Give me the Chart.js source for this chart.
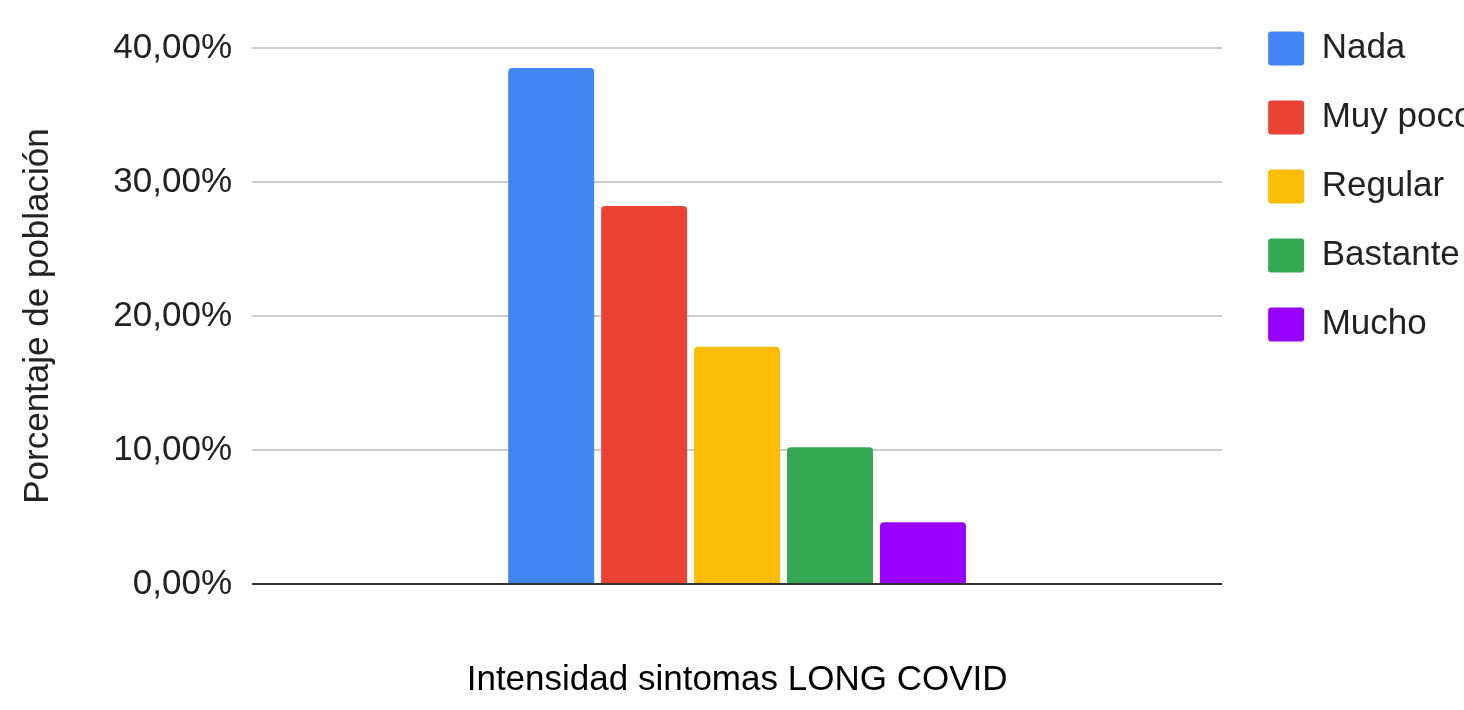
<!DOCTYPE html>
<html>
<head>
<meta charset="utf-8">
<script src="https://cdn.jsdelivr.net/npm/chart.js@4"></script>
<style>
  html, body { margin: 0; padding: 0; background: #fff; overflow: hidden; }
  #wrap { position: relative; width: 1481px; height: 710px; }
</style>
</head>
<body>
<div id="wrap"><canvas id="chart"></canvas></div>
<script>
// Data
const categories = [''];
const seriesNames = ['Nada', 'Muy poco', 'Regular', 'Bastante', 'Mucho'];
const seriesValues = [38.5, 28.2, 17.7, 10.2, 4.6];
const seriesColors = ['#4285f4', '#ea4335', '#fbbc04', '#34a853', '#9900ff'];
const yTicks = [0, 10, 20, 30, 40];

const FONT = '"Liberation Sans", Arial, sans-serif';

const datasets = seriesNames.map((name, i) => ({
    label: name,
    data: [seriesValues[i]],
    backgroundColor: seriesColors[i],
    borderRadius: { topLeft: 4, topRight: 4 },
    borderSkipped: 'start',
    categoryPercentage: 0.479,
    barPercentage: 0.925
}));

new Chart(document.getElementById('chart'), {
    type: 'bar',
    data: { labels: categories, datasets: datasets },
    options: {
        responsive: true,
        maintainAspectRatio: false,
        animation: false,
        layout: { padding: { left: 0, right: 0, top: -3, bottom: 0 } },
        plugins: {
            tooltip: { enabled: false },
            legend: {
                position: 'right',
                align: 'start',
                labels: {
                    boxWidth: 36,
                    boxHeight: 34,
                    padding: 34,
                    useBorderRadius: true,
                    borderRadius: 3,
                    color: '#222',
                    font: { family: FONT, size: 35 }
                }
            }
        },
        scales: {
            x: {
                grid: { display: false, drawTicks: false },
                border: { display: false },
                ticks: { display: false },
                title: {
                    display: true,
                    text: 'Intensidad sintomas LONG COVID',
                    color: '#000',
                    font: { family: FONT, size: 35 },
                    padding: { top: 75, bottom: 9 }
                }
            },
            y: {
                min: 0,
                max: 40,
                afterBuildTicks: (scale) => { scale.ticks = yTicks.map(v => ({ value: v })); },
                afterFit: (scale) => { scale.width = 252; },
                grid: {
                    drawTicks: false,
                    lineWidth: 2,
                    color: (ctx) => ctx.tick && ctx.tick.value === 0 ? '#333' : '#cccccc'
                },
                border: { display: false },
                ticks: {
                    padding: 20,
                    color: '#222',
                    font: { family: FONT, size: 35, lineHeight: 56 / 35 },
                    callback: (v) => v.toFixed(2).replace('.', ',') + '%'
                },
                title: {
                    display: true,
                    text: 'Porcentaje de población',
                    color: '#222',
                    font: { family: FONT, size: 35 },
                    padding: { top: 17, bottom: 54 }
                }
            },
            spacer: {
                type: 'linear',
                position: 'right',
                display: true,
                grid: { display: false, drawTicks: false },
                border: { display: false },
                ticks: { display: false },
                afterFit: (scale) => { scale.width = 12; }
            }
        }
    }
});
</script>
</body>
</html>
